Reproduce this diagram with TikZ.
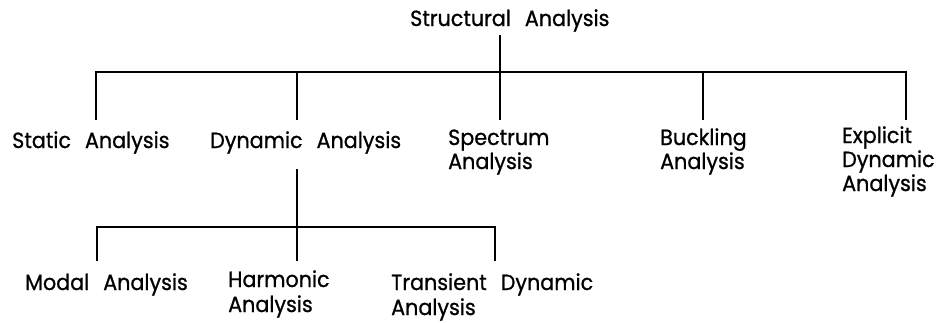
\documentclass[tikz,border=0pt]{standalone}
\usepackage{fontspec}
\setmainfont{Poppins}[FakeBold=0.8,FakeStretch=0.94]
\newcommand{\stackl}[2][24pt]{\vtop{\baselineskip=#1\relax #2}}
\newcommand{\wgap}{\hspace{14pt}}
\begin{document}
\begin{tikzpicture}[x=1pt,y=-1pt,
  lbl/.style={anchor=base west,inner sep=0pt,font=\fontsize{22}{24}\selectfont},
  conn/.style={line width=1.4pt}]
\useasboundingbox (0,0) rectangle (936,322);
% level 0
\node[lbl] (root) at (410,26) {Structural\wgap Analysis};
% level 1
\node[lbl] (static) at (12,148) {Static\wgap Analysis};
\node[lbl] (dyn) at (210,148) {Dynamic\wgap Analysis};
\node[lbl] (spec) at (448,145) {\stackl{\hbox{Spectrum}\hbox{Analysis}}};
\node[lbl] (buck) at (660,145) {\stackl{\hbox{Buckling}\hbox{Analysis}}};
\node[lbl] (expl) at (842,143) {\stackl{\hbox{Explicit}\hbox{Dynamic}\hbox{Analysis}}};
% level 2
\node[lbl] (modal) at (25,290) {Modal\wgap Analysis};
\node[lbl] (harm) at (228,287) {\stackl[25pt]{\hbox{Harmonic}\hbox{Analysis}}};
\node[lbl] (trans) at (391,290) {\stackl[25pt]{\hbox{Transient\wgap Dynamic}\hbox{Analysis}}};
% junctions
\coordinate (r0) at (500,35);
\coordinate (b1) at (500,72);
\coordinate (bl) at (96,72);
\coordinate (br) at (906,72);
\coordinate (t1) at (96,120);
\coordinate (t2) at (297,120);
\coordinate (t3) at (500,120);
\coordinate (t4) at (703,120);
\coordinate (t5) at (906,120);
\coordinate (u0) at (297,169);
\coordinate (b2) at (297,227);
\coordinate (cl) at (97,227);
\coordinate (cr) at (495,227);
\coordinate (s1) at (97,261);
\coordinate (s2) at (297,261);
\coordinate (s3) at (495,261);
\draw[conn] (r0) -- (t3);
\draw[conn] (t1) -- (bl) -- (br) -- (t5);
\draw[conn] (t2) -- (t2 |- b1);
\draw[conn] (t4) -- (t4 |- b1);
\draw[conn] (u0) -- (s2);
\draw[conn] (s1) -- (cl) -- (cr) -- (s3);
\end{tikzpicture}
\end{document}
